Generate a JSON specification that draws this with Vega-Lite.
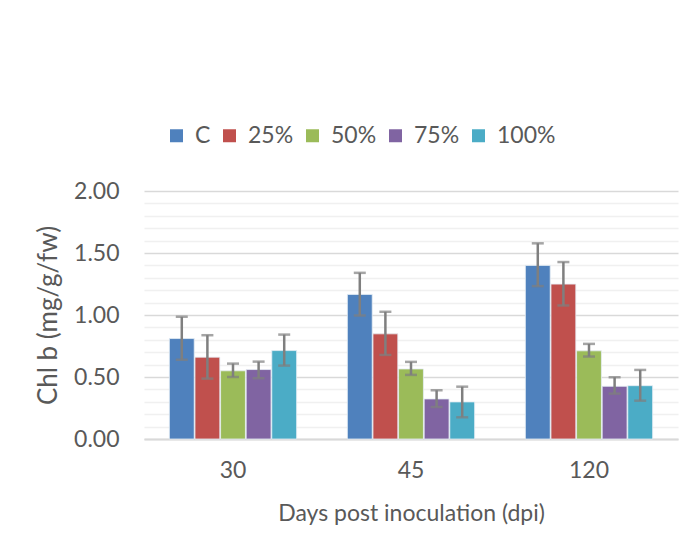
{
  "$schema": "https://vega.github.io/schema/vega-lite/v6.json",
  "width": 534,
  "height": 248,
  "padding": {"left": 35, "top": 124, "right": 5, "bottom": 5},
  "background": "white",
  "data": {
    "values": [
      {"dpi": "30", "treatment": "C", "value": 0.81, "lo": 0.64, "hi": 0.985},
      {"dpi": "30", "treatment": "25%", "value": 0.66, "lo": 0.487, "hi": 0.837},
      {"dpi": "30", "treatment": "50%", "value": 0.55, "lo": 0.50, "hi": 0.608},
      {"dpi": "30", "treatment": "75%", "value": 0.56, "lo": 0.49, "hi": 0.624},
      {"dpi": "30", "treatment": "100%", "value": 0.713, "lo": 0.592, "hi": 0.842},
      {"dpi": "45", "treatment": "C", "value": 1.166, "lo": 0.996, "hi": 1.34},
      {"dpi": "45", "treatment": "25%", "value": 0.848, "lo": 0.678, "hi": 1.026},
      {"dpi": "45", "treatment": "50%", "value": 0.565, "lo": 0.517, "hi": 0.622},
      {"dpi": "45", "treatment": "75%", "value": 0.323, "lo": 0.258, "hi": 0.393},
      {"dpi": "45", "treatment": "100%", "value": 0.299, "lo": 0.175, "hi": 0.422},
      {"dpi": "120", "treatment": "C", "value": 1.40, "lo": 1.233, "hi": 1.578},
      {"dpi": "120", "treatment": "25%", "value": 1.249, "lo": 1.077, "hi": 1.427},
      {"dpi": "120", "treatment": "50%", "value": 0.711, "lo": 0.665, "hi": 0.767},
      {"dpi": "120", "treatment": "75%", "value": 0.425, "lo": 0.366, "hi": 0.498},
      {"dpi": "120", "treatment": "100%", "value": 0.43, "lo": 0.309, "hi": 0.557}
    ]
  },
  "encoding": {
    "x": {
      "field": "dpi",
      "type": "ordinal",
      "sort": ["30", "45", "120"],
      "scale": {"paddingInner": 0.285, "paddingOuter": 0.1425},
      "axis": {
        "title": "Days post inoculation (dpi)",
        "labelAngle": 0,
        "labelPadding": 20,
        "titlePadding": 20,
        "ticks": false,
        "domainColor": "#d9d9d9",
        "domainWidth": 2
      }
    },
    "xOffset": {
      "field": "treatment",
      "type": "nominal",
      "sort": ["C", "25%", "50%", "75%", "100%"],
      "scale": {"paddingInner": 0.03}
    }
  },
  "layer": [
    {
      "mark": {"type": "bar", "stroke": "#e6eef5", "strokeWidth": 0.8},
      "encoding": {
        "y": {
          "field": "value",
          "type": "quantitative",
          "scale": {"domain": [0, 2], "nice": false},
          "axis": {
            "title": "Chl b (mg/g/fw)",
            "values": [0, 0.1, 0.2, 0.3, 0.4, 0.5, 0.6, 0.7, 0.8, 0.9, 1, 1.1, 1.2, 1.3, 1.4, 1.5, 1.6, 1.7, 1.8, 1.9, 2],
            "labelExpr": "abs(datum.value*2-round(datum.value*2))<0.001 ? format(datum.value,'.2f') : ''",
            "labelOverlap": false,
            "gridColor": {"condition": {"test": "abs(datum.value*2-round(datum.value*2))<0.001", "value": "#d9d9d9"}, "value": "#f0f0f0"},
            "gridWidth": 1.5,
            "ticks": false,
            "domain": false,
            "labelPadding": 25,
            "titlePadding": 12,
            "titleFontSize": 26
          }
        },
        "color": {
          "field": "treatment",
          "type": "nominal",
          "sort": ["C", "25%", "50%", "75%", "100%"],
          "scale": {
            "domain": ["C", "25%", "50%", "75%", "100%"],
            "range": ["#4f81bd", "#c0504d", "#9bbb59", "#8064a2", "#4bacc6"]
          },
          "legend": {
            "title": null,
            "orient": "none",
            "direction": "horizontal",
            "legendX": 21,
            "legendY": -67,
            "symbolType": "square",
            "symbolSize": 169,
            "symbolStrokeWidth": 0,
            "labelOffset": 7,
            "columnPadding": 7
          }
        }
      }
    },
    {
      "mark": {"type": "rule", "color": "#7f7f7f", "strokeWidth": 2.5},
      "encoding": {
        "y": {
          "field": "lo",
          "type": "quantitative",
          "axis": {
            "title": "Chl b (mg/g/fw)",
            "values": [0, 0.1, 0.2, 0.3, 0.4, 0.5, 0.6, 0.7, 0.8, 0.9, 1, 1.1, 1.2, 1.3, 1.4, 1.5, 1.6, 1.7, 1.8, 1.9, 2],
            "labelExpr": "abs(datum.value*2-round(datum.value*2))<0.001 ? format(datum.value,'.2f') : ''",
            "labelOverlap": false,
            "gridColor": {"condition": {"test": "abs(datum.value*2-round(datum.value*2))<0.001", "value": "#d9d9d9"}, "value": "#f0f0f0"},
            "gridWidth": 1.5,
            "ticks": false,
            "domain": false,
            "labelPadding": 25,
            "titlePadding": 12,
            "titleFontSize": 26
          }
        },
        "y2": {"field": "hi"}
      }
    },
    {
      "mark": {"type": "tick", "color": "#7f7f7f", "thickness": 2.5, "size": 12, "orient": "horizontal"},
      "encoding": {
        "y": {
          "field": "lo",
          "type": "quantitative",
          "axis": {
            "title": "Chl b (mg/g/fw)",
            "values": [0, 0.1, 0.2, 0.3, 0.4, 0.5, 0.6, 0.7, 0.8, 0.9, 1, 1.1, 1.2, 1.3, 1.4, 1.5, 1.6, 1.7, 1.8, 1.9, 2],
            "labelExpr": "abs(datum.value*2-round(datum.value*2))<0.001 ? format(datum.value,'.2f') : ''",
            "labelOverlap": false,
            "gridColor": {"condition": {"test": "abs(datum.value*2-round(datum.value*2))<0.001", "value": "#d9d9d9"}, "value": "#f0f0f0"},
            "gridWidth": 1.5,
            "ticks": false,
            "domain": false,
            "labelPadding": 25,
            "titlePadding": 12,
            "titleFontSize": 26
          }
        }
      }
    },
    {
      "mark": {"type": "tick", "color": "#7f7f7f", "thickness": 2.5, "size": 12, "orient": "horizontal"},
      "encoding": {
        "y": {
          "field": "hi",
          "type": "quantitative",
          "axis": {
            "title": "Chl b (mg/g/fw)",
            "values": [0, 0.1, 0.2, 0.3, 0.4, 0.5, 0.6, 0.7, 0.8, 0.9, 1, 1.1, 1.2, 1.3, 1.4, 1.5, 1.6, 1.7, 1.8, 1.9, 2],
            "labelExpr": "abs(datum.value*2-round(datum.value*2))<0.001 ? format(datum.value,'.2f') : ''",
            "labelOverlap": false,
            "gridColor": {"condition": {"test": "abs(datum.value*2-round(datum.value*2))<0.001", "value": "#d9d9d9"}, "value": "#f0f0f0"},
            "gridWidth": 1.5,
            "ticks": false,
            "domain": false,
            "labelPadding": 25,
            "titlePadding": 12,
            "titleFontSize": 26
          }
        }
      }
    }
  ],
  "config": {
    "font": "Lato",
    "view": {"stroke": null},
    "axis": {
      "labelFont": "Lato",
      "titleFont": "Lato",
      "labelFontSize": 23,
      "titleFontSize": 23,
      "labelColor": "#595959",
      "titleColor": "#595959",
      "titleFontWeight": "normal"
    },
    "legend": {
      "labelFont": "Lato",
      "labelFontSize": 23,
      "labelColor": "#595959"
    }
  }
}
